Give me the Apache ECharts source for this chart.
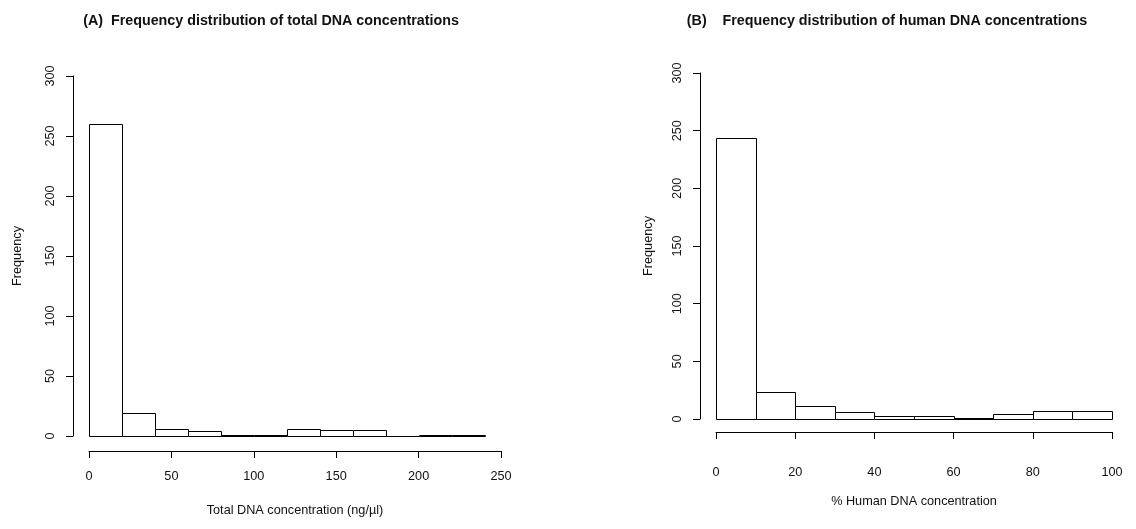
<!DOCTYPE html>
<html>
<head>
<meta charset="utf-8">
<script src="https://cdn.jsdelivr.net/npm/echarts@6/dist/echarts.min.js"></script>
<style>html,body{margin:0;padding:0;background:#fff;}#c{width:1136px;height:529px;}</style>
</head>
<body>
<div id="c"></div>
<script>
// Panel A: total DNA concentration histogram (bin width 20 ng/µl)
const binEdgesA = [0, 20, 40, 60, 80, 100, 120, 140, 160, 180, 200, 220, 240];
const countsA = [260, 19, 6, 4, 1, 1, 6, 5, 5, 0, 1, 1];
// Panel B: % human DNA concentration histogram (bin width 10 %)
const binEdgesB = [0, 10, 20, 30, 40, 50, 60, 70, 80, 90, 100];
const countsB = [244, 23, 11, 6, 3, 3, 1, 4, 7, 7];

const titleA = '(A)  Frequency distribution of total DNA concentrations';
const titleB = '(B)    Frequency distribution of human DNA concentrations';
const xNameA = 'Total DNA concentration (ng/\u00b5l)';
const xNameB = '% Human DNA concentration';
const yName = 'Frequency';

function bins(edges, counts) {
  return counts.map((c, i) => [edges[i], edges[i + 1], c]);
}

const FONT = '"Liberation Sans", Arial, Helvetica, sans-serif';
const TXT = '#111';
const FS = 12.7;

function renderItem(params, api) {
  const p0 = api.coord([api.value(0), 0]);
  const p1 = api.coord([api.value(1), api.value(2)]);
  return {
    type: 'rect',
    shape: { x: Math.round(p0[0]) + 0.5, y: Math.round(p1[1]) + 0.5,
             width: Math.round(p1[0]) - Math.round(p0[0]),
             height: Math.round(p0[1]) - Math.round(p1[1]) },
    style: { fill: '#fff', stroke: '#000', lineWidth: 1 }
  };
}

function xAxis(idx, max, interval, name, offset, margin, nameGap) {
  return {
    type: 'value', gridIndex: idx, min: 0, max: max, interval: interval,
    offset: offset,
    name: name, nameLocation: 'middle', nameGap: nameGap, nameMoveOverlap: false,
    nameTextStyle: { fontFamily: FONT, fontSize: FS, color: TXT },
    axisLine: { show: true, onZero: false, lineStyle: { color: '#000', width: 1 } },
    axisTick: { show: true, length: 7, lineStyle: { color: '#000' } },
    axisLabel: { fontFamily: FONT, fontSize: FS, color: TXT, margin: margin },
    splitLine: { show: false }
  };
}
function yAxis(idx, name, offset, nameGap) {
  return {
    type: 'value', gridIndex: idx, min: 0, max: 300, interval: 50,
    offset: offset,
    name: name, nameLocation: 'middle', nameGap: nameGap, nameMoveOverlap: false,
    nameTextStyle: { fontFamily: FONT, fontSize: FS, color: TXT },
    axisLine: { show: true, onZero: false, lineStyle: { color: '#000', width: 1 } },
    axisTick: { show: true, length: 7, lineStyle: { color: '#000' } },
    axisLabel: { fontFamily: FONT, fontSize: FS, color: TXT, rotate: 90, margin: 16 },
    splitLine: { show: false }
  };
}

const chart = echarts.init(document.getElementById('c'), null, { renderer: 'canvas' });
chart.setOption({
  animation: false,
  backgroundColor: '#fff',
  title: [
    { text: titleA, left: 271, top: 14, textAlign: 'center', padding: 0,
      textStyle: { fontFamily: FONT, fontSize: 14.3, fontWeight: 'bold', color: TXT } },
    { text: titleB, left: 887, top: 14, textAlign: 'center', padding: 0,
      textStyle: { fontFamily: FONT, fontSize: 14.3, fontWeight: 'bold', color: TXT } }
  ],
  grid: [
    { left: 89, right: 635, top: 76, bottom: 93 },
    { left: 716, right: 24, top: 73, bottom: 110 }
  ],
  xAxis: [
    xAxis(0, 250, 50, xNameA, 15, 19, 53),
    xAxis(1, 100, 20, xNameB, 13, 34, 63)
  ],
  yAxis: [
    yAxis(0, yName, 16, 49),
    yAxis(1, yName, 16, 45)
  ],
  series: [
    { type: 'custom', xAxisIndex: 0, yAxisIndex: 0, renderItem: renderItem,
      encode: { x: [0, 1], y: 2 }, data: bins(binEdgesA, countsA) },
    { type: 'custom', xAxisIndex: 1, yAxisIndex: 1, renderItem: renderItem,
      encode: { x: [0, 1], y: 2 }, data: bins(binEdgesB, countsB) }
  ]
});
</script>
</body>
</html>
